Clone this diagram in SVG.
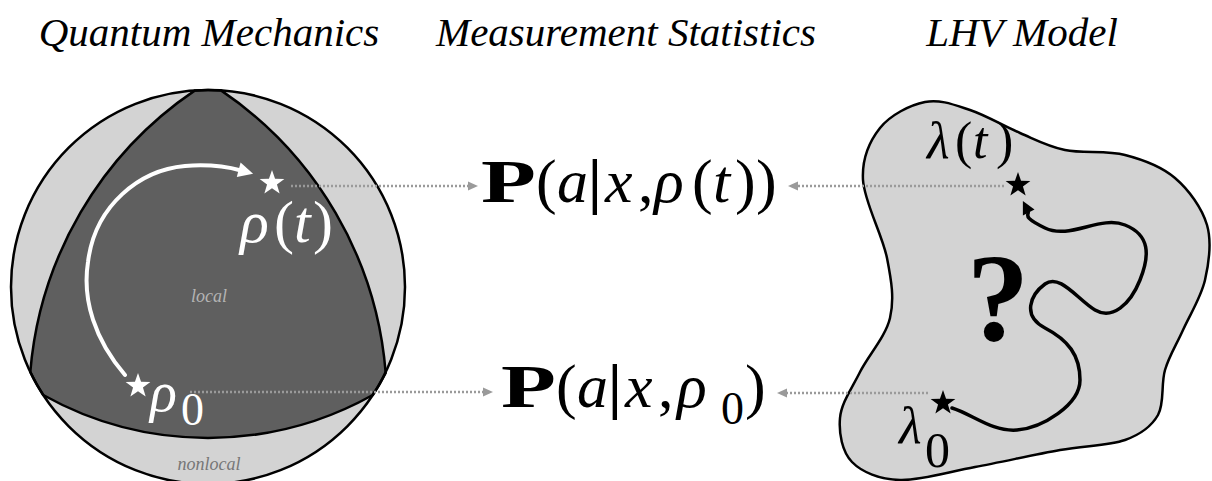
<svg xmlns="http://www.w3.org/2000/svg" width="1212" height="481" viewBox="0 0 1212 481">
<style>
text{font-family:'Liberation Serif','Times New Roman',Times,serif}
.title{font-style:italic;font-size:41px;text-anchor:middle;fill:#000}
.lbl{font-style:italic;font-size:18px;text-anchor:middle}
.it{font-style:italic}
.bf{font-weight:bold}
.dot{fill:none;stroke:#9a9a9a;stroke-width:2.5;stroke-dasharray:2 2}
.gah{fill:#9a9a9a}
</style>
<defs>
<path id="star" d="M0,-13 L3.06,-4.21 L12.36,-4.02 L4.95,1.61 L7.64,10.52 L0,5.2 L-7.64,10.52 L-4.95,1.61 L-12.36,-4.02 L-3.06,-4.21 Z"/>
</defs>

<g id="titles">
<text class="title" x="209" y="46" font-family="Liberation Serif, Times New Roman, serif">Quantum Mechanics</text>
<text class="title" x="626" y="46" font-family="Liberation Serif, Times New Roman, serif">Measurement Statistics</text>
<text class="title" x="1022" y="46" font-family="Liberation Serif, Times New Roman, serif">LHV Model</text>
</g>

<g id="quantum">
<circle cx="208" cy="287" r="197" fill="#d3d3d3"/>
<path d="M195,90.4 A197,197 0 0 1 221,90.4 A377,377 0 0 1 385.7,373 A197,197 0 0 1 372.8,395 A338,338 0 0 1 43.2,395 A197,197 0 0 1 30.3,372 A377,377 0 0 1 195,90.4 Z" fill="#5f5f5f" stroke="#000" stroke-width="2.5" stroke-linejoin="round"/>
<circle cx="208" cy="287" r="197" fill="none" stroke="#000" stroke-width="2.5"/>
<text class="lbl" x="209" y="302" fill="#b4b4b4" font-family="Liberation Serif, Times New Roman, serif">local</text>
<text class="lbl" x="209" y="470" fill="#777777" font-family="Liberation Serif, Times New Roman, serif">nonlocal</text>
<path d="M125,375 C95,340 82,300 88,262 C95,205 140,170 185,166 C210,164 228,167 241,170.5" fill="none" stroke="#ffffff" stroke-width="4" stroke-linecap="round"/>
<polygon points="253.1,173.7 236.8,177.0 240.6,162.6" fill="#ffffff"/>
<use href="#star" x="272" y="183" fill="#ffffff"/>
<use href="#star" x="138" y="386" fill="#ffffff"/>
<text y="242" fill="#ffffff" font-size="60" font-family="Liberation Serif, Times New Roman, serif"><tspan class="it" x="240">ρ</tspan><tspan x="274">(</tspan><tspan class="it" x="294">t</tspan><tspan x="313">)</tspan></text>
<text y="411" fill="#ffffff" font-size="56" font-family="Liberation Serif, Times New Roman, serif"><tspan class="it" x="150">ρ</tspan><tspan x="181" y="425" font-size="46">0</tspan></text>
</g>

<g id="stat1">
<text class="bf" transform="translate(481,202) scale(1.45,1)" font-size="62" font-family="Liberation Serif, Times New Roman, serif">P</text>
<text y="202" font-size="62" font-family="Liberation Serif, Times New Roman, serif"><tspan x="536">(</tspan><tspan class="it" x="557">a</tspan><tspan class="bf" x="588">|</tspan><tspan class="it" x="605">x</tspan><tspan x="638">,</tspan><tspan class="it" x="654">ρ</tspan><tspan x="692">(</tspan><tspan class="it" x="713">t</tspan><tspan x="735">)</tspan><tspan x="756">)</tspan></text>
</g>

<g id="stat2">
<text class="bf" transform="translate(501,407) scale(1.45,1)" font-size="62" font-family="Liberation Serif, Times New Roman, serif">P</text>
<text y="407" font-size="62" font-family="Liberation Serif, Times New Roman, serif"><tspan x="556">(</tspan><tspan class="it" x="577">a</tspan><tspan class="bf" x="608">|</tspan><tspan class="it" x="625">x</tspan><tspan x="658">,</tspan><tspan class="it" x="677">ρ</tspan><tspan x="721" y="424" font-size="46">0</tspan><tspan x="745" y="407">)</tspan></text>
</g>

<g id="lhv">
<path d="M863,180 C861.8,158.3 869.7,141 880,128 C890.3,115 910,105 925,102 C940,99 954.2,104.8 970,110 C985.8,115.2 1004.2,126.3 1020,133 C1035.8,139.7 1047.5,146.3 1065,150 C1082.5,153.7 1106.7,150.3 1125,155 C1143.3,159.7 1161.3,166.3 1175,178 C1188.7,189.7 1202,208 1207,225 C1212,242 1209,262.5 1205,280 C1201,297.5 1189.7,315 1183,330 C1176.3,345 1169.2,355.8 1165,370 C1160.8,384.2 1164.7,403.3 1158,415 C1151.3,426.7 1141.3,434.2 1125,440 C1108.7,445.8 1085,445.5 1060,450 C1035,454.5 1001.7,462 975,467 C948.3,472 920.5,480.8 900,480 C879.5,479.2 862,472.3 852,462 C842,451.7 838.7,433 840,418 C841.3,403 851.7,388.7 860,372 C868.3,355.3 885.5,337 890,318 C894.5,299 891.5,281 887,258 C882.5,235 864.2,201.7 863,180 Z" fill="#d3d3d3" stroke="#000" stroke-width="2.5"/>
<path d="M952,408 C972,414 992,432 1017,430 S1080,405 1080,380 S1068,340 1045,328 S1030,295 1045,284 S1078,300 1095,310 S1130,305 1140,280 S1150,235 1125,225 S1070,240 1045,228 S1030,215 1028,211" fill="none" stroke="#000" stroke-width="3.5" stroke-linecap="round"/>
<polygon points="1022.9,200.9 1034.5,209.6 1022.9,215.4" fill="#000"/>
<use href="#star" x="1018" y="185" fill="#000"/>
<use href="#star" x="943" y="403" fill="#000"/>
<text y="158" fill="#000" font-size="52" font-family="Liberation Serif, Times New Roman, serif"><tspan class="it" x="927">λ</tspan><tspan x="955">(</tspan><tspan class="it" x="973">t</tspan><tspan x="996">)</tspan></text>
<text y="443" fill="#000" font-size="52" font-family="Liberation Serif, Times New Roman, serif"><tspan class="it" x="899">λ</tspan><tspan x="925" y="467" font-size="50">0</tspan></text>
<text class="bf" x="998" y="340" text-anchor="middle" fill="#000" font-size="125" font-family="Liberation Serif, Times New Roman, serif">?</text>
</g>

<g id="connectors">
<line class="dot" x1="291" y1="186" x2="468" y2="186"/>
<line class="dot" x1="1004" y1="186" x2="798" y2="186"/>
<line class="dot" x1="190" y1="392" x2="483" y2="392"/>
<line class="dot" x1="928" y1="393" x2="787" y2="393"/>
<polygon class="gah" points="468,181.5 478,186 468,190.5"/>
<polygon class="gah" points="798,181.5 788,186 798,190.5"/>
<polygon class="gah" points="483,387.5 493,392 483,396.5"/>
<polygon class="gah" points="787,388.5 777,393 787,397.5"/>
</g>
</svg>
